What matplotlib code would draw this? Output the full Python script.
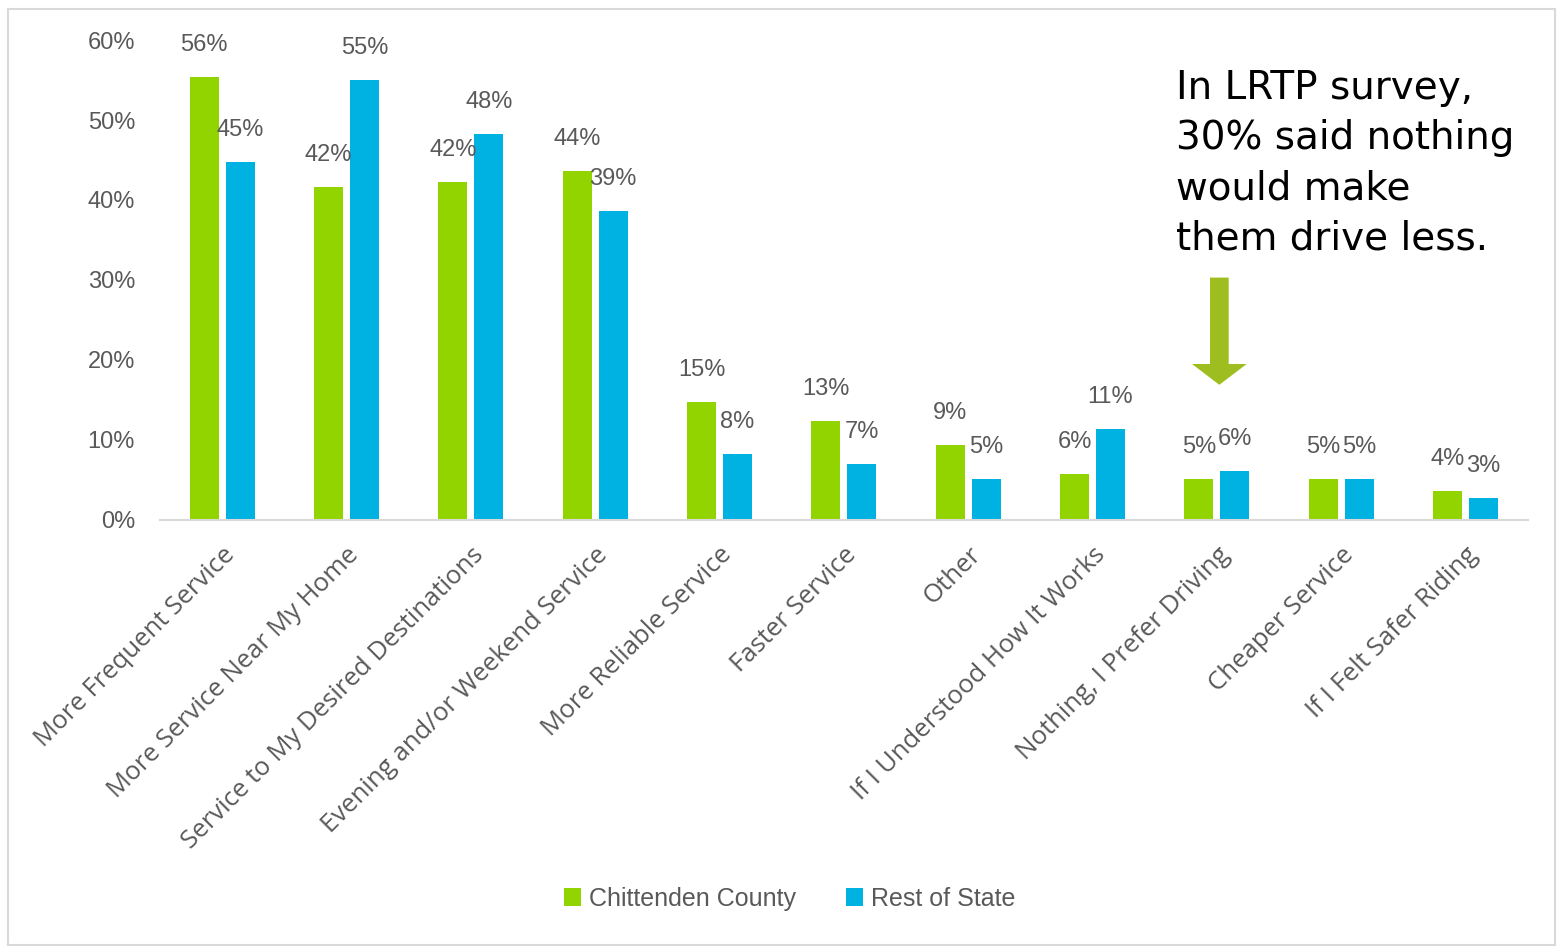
import numpy as np
import matplotlib
matplotlib.use("Agg")
import matplotlib.pyplot as plt
from matplotlib.patches import FancyArrow, Rectangle
from matplotlib import font_manager

# Survey data: what would make you ride transit more
categories = [
    "More Frequent Service",
    "More Service Near My Home",
    "Service to My Desired Destinations",
    "Evening and/or Weekend Service",
    "More Reliable Service",
    "Faster Service",
    "Other",
    "If I Understood How It Works",
    "Nothing, I Prefer Driving",
    "Cheaper Service",
    "If I Felt Safer Riding",
]
chittenden = [55.4, 41.6, 42.2, 43.6, 14.8, 12.4, 9.4, 5.8, 5.1, 5.1, 3.6]
rest_of_state = [44.8, 55.0, 48.2, 38.6, 8.2, 7.0, 5.1, 11.4, 6.1, 5.1, 2.8]
chittenden_labels = ["56%", "42%", "42%", "44%", "15%", "13%", "9%", "6%", "5%", "5%", "4%"]
rest_labels = ["45%", "55%", "48%", "39%", "8%", "7%", "5%", "11%", "6%", "5%", "3%"]
y_ticks = [0, 10, 20, 30, 40, 50, 60]

GREEN = "#92D400"
BLUE = "#00B2E2"
ARROW = "#9DBE1E"
TEXT = "#595959"

# narrow font for numbers if there is one
installed = {f.name for f in font_manager.fontManager.ttflist}
NARROW = "Liberation Sans Narrow" if "Liberation Sans Narrow" in installed else "Liberation Sans"
LABEL_FONT = "Open Sans" if "Open Sans" in installed else "DejaVu Sans"

fig = plt.figure(figsize=(15.63, 9.48), dpi=100)
ax = fig.add_axes([0.1024, 0.4515, 0.875, 0.5063])

x = np.arange(len(categories))
w = 0.234
off = 0.145
b1 = ax.bar(x - off, chittenden, w, color=GREEN, label="Chittenden County")
b2 = ax.bar(x + off, rest_of_state, w, color=BLUE, label="Rest of State")

for bars, labs in [(b1, chittenden_labels), (b2, rest_labels)]:
    for bar, lab in zip(bars, labs):
        ax.annotate(lab, (bar.get_x() + bar.get_width() / 2, bar.get_height()),
                    xytext=(0, 23), textcoords="offset points",
                    ha="center", va="center", fontsize=17, color=TEXT,
                    family=NARROW)

ax.set_xlim(-0.5, len(categories) - 0.5)
ax.set_ylim(0, 60)
ax.set_yticks(y_ticks)
ax.set_yticklabels([f"{t}%" for t in y_ticks], family=NARROW,
                   fontsize=17, color=TEXT)
ax.set_xticks(x)
ax.set_xticklabels(categories, rotation=45, ha="right", rotation_mode="anchor",
                   fontsize=18.5, color=TEXT, family=LABEL_FONT)
ax.tick_params(axis="y", length=0, pad=18)
ax.tick_params(axis="x", length=0, pad=16)
for s in ["top", "right", "left"]:
    ax.spines[s].set_visible(False)
ax.spines["bottom"].set_color("#D9D9D9")
ax.spines["bottom"].set_linewidth(1.5)

# callout arrow pointing at "Nothing, I Prefer Driving"
ax.add_patch(FancyArrow(8.02, 30.3, 0, -13.4, width=0.15, head_width=0.44,
                        head_length=2.6, length_includes_head=True,
                        color=ARROW, lw=0, clip_on=False))

fig.text(0.7524, 0.927, "In LRTP survey,\n30% said nothing\nwould make\nthem drive less.",
         ha="left", va="top", fontsize=28, linespacing=1.4, color="black",
         family="DejaVu Sans")

fig.legend(loc="center", bbox_to_anchor=(0.505, 0.052), ncol=2, frameon=False,
           prop={"family": NARROW, "size": 18},
           handlelength=0.7, handleheight=0.7, handletextpad=0.3, columnspacing=2.0,
           labelcolor=TEXT)

# outer frame
fig.add_artist(Rectangle((0.005, 0.003), 0.99, 0.988, transform=fig.transFigure,
                         fill=False, edgecolor="#D9D9D9", lw=1.5))

fig.savefig("out.png", dpi=100)
